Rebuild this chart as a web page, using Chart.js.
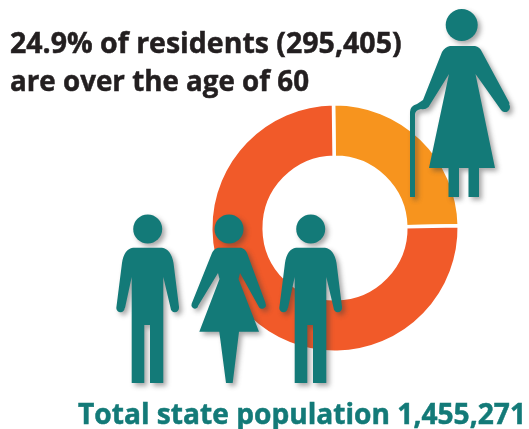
<!DOCTYPE html>
<html>
<head>
<meta charset="utf-8">
<title>Residents over 60</title>
<script src="https://cdn.jsdelivr.net/npm/chart.js@4"></script>
<style>
  html, body { margin: 0; padding: 0; background: #fff; }
  #wrap { position: relative; width: 529px; height: 429px; overflow: hidden; }
</style>
</head>
<body>
<div id="wrap"><canvas id="ageChart" width="529" height="429"></canvas></div>
<script>
'use strict';

const categories = ['Over 60', 'Under 60'];
const shares = [24.9, 75.1];
const sliceColors = ['#F7941E', '#F15A29'];
const headingLines = ['24.9% of residents (295,405)', 'are over the age of 60'];
const totalLine = 'Total state population 1,455,271';

const TEAL = '#137A78';

function man(ctx, dx) {
  ctx.beginPath();
  ctx.arc(147.7 + dx, 229, 14.5, 0, Math.PI * 2);
  ctx.fill();

  const p = new Path2D();
  p.moveTo(133 + dx, 247.7);
  p.lineTo(162 + dx, 247.7);
  p.quadraticCurveTo(171 + dx, 249, 173.5 + dx, 263);
  p.lineTo(179 + dx, 307);
  p.arc(174.8 + dx, 308, 4.2, 0, Math.PI);
  p.lineTo(163.3 + dx, 277);
  p.lineTo(163.3 + dx, 383);
  p.lineTo(150 + dx, 383);
  p.lineTo(150 + dx, 325);
  p.lineTo(144.3 + dx, 325);
  p.lineTo(144.3 + dx, 383);
  p.lineTo(131.7 + dx, 383);
  p.lineTo(131.7 + dx, 277);
  p.lineTo(125 + dx, 308);
  p.arc(120.5 + dx, 308, 4.2, 0, Math.PI);
  p.lineTo(122 + dx, 263);
  p.quadraticCurveTo(124 + dx, 249, 133 + dx, 247.7);
  p.closePath();
  ctx.fill(p);
}

function woman(ctx) {
  ctx.beginPath();
  ctx.arc(229, 229, 14.5, 0, Math.PI * 2);
  ctx.fill();

  const p = new Path2D();
  p.moveTo(218, 247.7);
  p.lineTo(241, 247.7);
  p.quadraticCurveTo(245, 248.5, 247, 253);
  p.lineTo(265.5, 303);
  p.arc(262, 305, 3.8, -0.4, 2.4);
  p.lineTo(240, 273);
  p.lineTo(238.5, 279);
  p.lineTo(259, 331.7);
  p.lineTo(239, 331.7);
  p.lineTo(232.7, 383);
  p.lineTo(226, 383);
  p.lineTo(219.3, 331.7);
  p.lineTo(199.3, 331.7);
  p.lineTo(219.5, 279);
  p.lineTo(218, 273);
  p.lineTo(198, 306);
  p.arc(195, 305, 3.6, 0.7, 3.5);
  p.lineTo(212, 253);
  p.quadraticCurveTo(214, 248.5, 218, 247.7);
  p.closePath();
  ctx.fill(p);
}

function elder(ctx) {
  ctx.beginPath();
  ctx.arc(461.7, 25, 16, 0, Math.PI * 2);
  ctx.fill();

  const p = new Path2D();
  p.moveTo(450, 46);
  p.lineTo(475, 46);
  p.quadraticCurveTo(480, 47, 482, 52);
  p.lineTo(509.5, 103);
  p.arc(505, 107, 5, -0.6, 2.6);
  p.lineTo(475.5, 74);
  p.lineTo(495, 168);
  p.lineTo(479, 168);
  p.lineTo(479, 197);
  p.lineTo(468.5, 197);
  p.lineTo(468.5, 168);
  p.lineTo(459, 168);
  p.lineTo(459, 197);
  p.lineTo(448.5, 197);
  p.lineTo(448.5, 168);
  p.lineTo(429, 168);
  p.lineTo(449, 74);
  p.lineTo(428.5, 107);
  p.quadraticCurveTo(425, 110, 421, 109);
  // cane handle and shaft
  p.quadraticCurveTo(415.5, 110, 415, 114);
  p.lineTo(415, 197);
  p.lineTo(410, 197);
  p.lineTo(410, 112);
  p.quadraticCurveTo(410, 106, 417, 104);
  p.lineTo(423, 100);
  p.lineTo(442, 52);
  p.quadraticCurveTo(445, 47, 450, 46);
  p.closePath();
  ctx.fill(p);
}

function drawLine(ctx, text, x, y, width) {
  ctx.fillText(text, x, y, width);
  // a hairline outline thickens the bold face a little
  ctx.strokeText(text, x, y, width);
}

// Pictograms and text sit on top of the ring
const overlay = {
  id: 'overlay',
  afterDraw(chart) {
    const ctx = chart.ctx;
    ctx.save();
    ctx.fillStyle = TEAL;
    ctx.shadowColor = 'rgba(60,60,60,0.45)';
    ctx.shadowBlur = 5;
    ctx.shadowOffsetX = 3;
    ctx.shadowOffsetY = 3;
    elder(ctx);
    man(ctx, 0);
    woman(ctx);
    man(ctx, 163);
    ctx.restore();

    ctx.save();
    ctx.textBaseline = 'alphabetic';
    ctx.textAlign = 'left';
    ctx.lineWidth = 0.5;
    ctx.font = 'bold 28.5px "Open Sans"';
    ctx.fillStyle = ctx.strokeStyle = '#231F20';
    drawLine(ctx, headingLines[0], 10, 53, 392);
    drawLine(ctx, headingLines[1], 10, 91, 299);
    ctx.fillStyle = ctx.strokeStyle = TEAL;
    drawLine(ctx, totalLine, 78, 424, 448);
    ctx.restore();
  }
};

new Chart(document.getElementById('ageChart').getContext('2d'), {
  type: 'doughnut',
  data: {
    labels: categories,
    datasets: [{
      data: shares,
      backgroundColor: sliceColors,
      borderColor: '#fff',
      borderWidth: 3.5
    }]
  },
  options: {
    responsive: false,
    animation: false,
    cutout: '57%',
    rotation: -0.7,
    layout: { padding: { left: 209, right: 68, top: 102, bottom: 75 } },
    plugins: { legend: { display: false }, tooltip: { enabled: false } }
  },
  plugins: [overlay]
});
</script>
</body>
</html>
